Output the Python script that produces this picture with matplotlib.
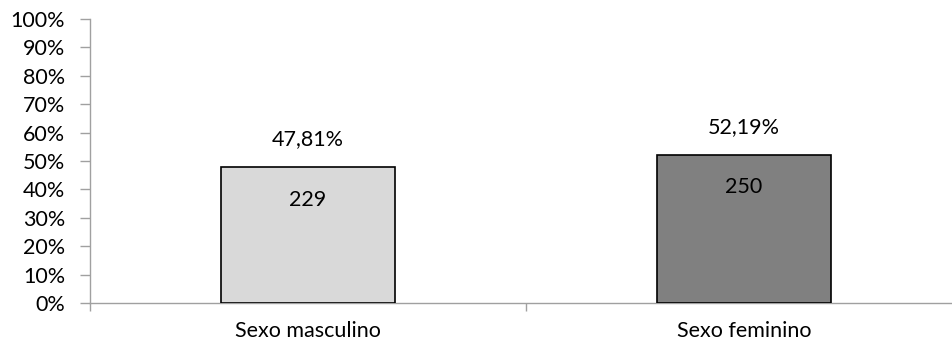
import matplotlib
matplotlib.use("Agg")
import matplotlib.pyplot as plt
from matplotlib.ticker import FixedLocator, PercentFormatter

categories = ["Sexo masculino", "Sexo feminino"]
percentages = [47.81, 52.19]
counts = [229, 250]
pct_labels = ["47,81%", "52,19%"]
colors = ["#d9d9d9", "#808080"]

plt.rcParams['font.family'] = ['Lato', 'DejaVu Sans']
FS = 15.5

fig = plt.figure(figsize=(9.52, 3.45), dpi=100)
ax = fig.add_axes([90/952, 42/345, 1 - 90/952, 284/345])

x = list(range(len(categories)))
bars = ax.bar(x, percentages, width=0.40, color=colors, edgecolor="black", linewidth=1.2, zorder=3)

for xi, p, c, pl in zip(x, percentages, counts, pct_labels):
    ax.text(xi, p + 9.8, pl, ha="center", va="center", fontsize=FS)
    ax.text(xi, p - 11.5, str(c), ha="center", va="center", fontsize=FS)

ax.set_xlim(-0.5, 1.477)
ax.set_ylim(0, 100)
ax.set_yticks(range(0, 101, 10))
ax.yaxis.set_major_formatter(PercentFormatter(decimals=0))
ax.set_xticks(x)
ax.set_xticklabels(categories, fontsize=FS)
ax.tick_params(axis="x", which="major", length=0, pad=13)
ax.xaxis.set_minor_locator(FixedLocator([-0.5, 0.5]))
ax.tick_params(axis="x", which="minor", length=6, color="#a0a0a0", width=1)
ax.tick_params(axis="y", length=7, color="#a0a0a0", width=1, labelsize=FS, pad=11)

for s in ["top", "right"]:
    ax.spines[s].set_visible(False)
for s in ["left", "bottom"]:
    ax.spines[s].set_color("#a0a0a0")
    ax.spines[s].set_linewidth(1)

fig.savefig("out.png", dpi=100)
